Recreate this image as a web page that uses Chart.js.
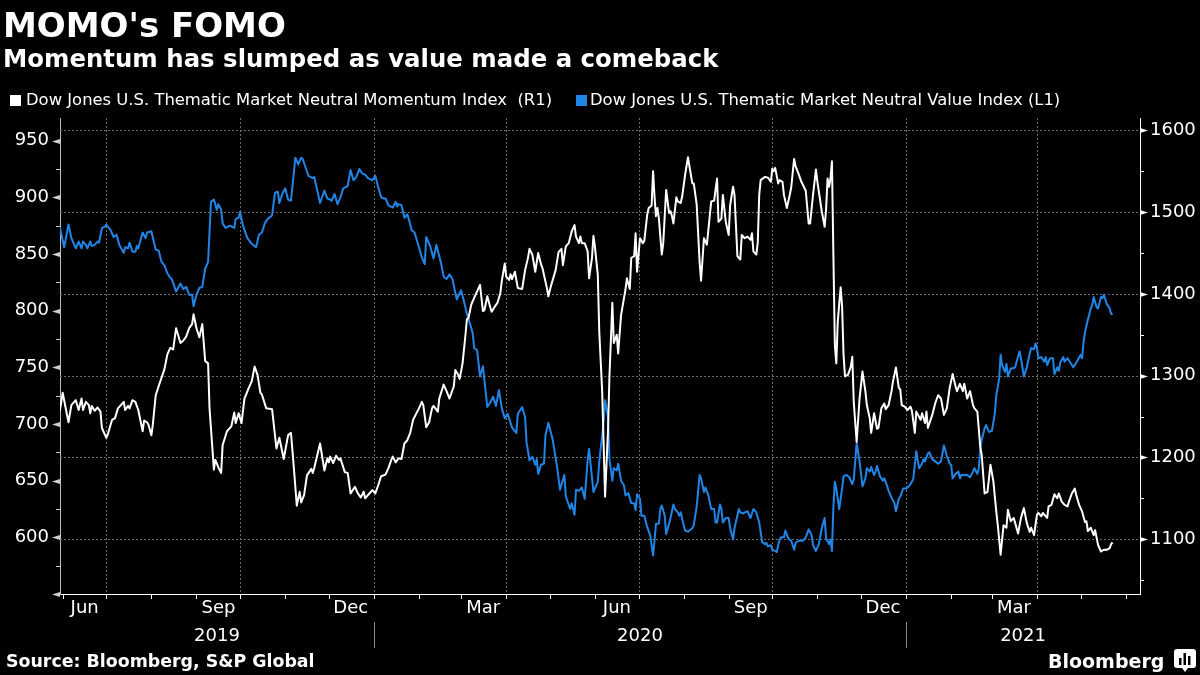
<!DOCTYPE html>
<html>
<head>
<meta charset="utf-8">
<script src="https://cdn.jsdelivr.net/npm/chart.js@4.4.1/dist/chart.umd.min.js"></script>
<style>
html,body{margin:0;padding:0;background:#000;width:1200px;height:675px;overflow:hidden;}
#wrap{position:relative;width:1200px;height:675px;background:#000;}
#c{position:absolute;left:0;top:0;}
.t{position:absolute;color:#fff;font-family:"DejaVu Sans",sans-serif;white-space:pre;line-height:1;}
.sq{position:absolute;width:11px;height:11px;}
</style>
</head>
<body>
<div id="wrap">
<canvas id="c" width="1200" height="675"></canvas>
<div class="t" style="left:3px;top:8px;font-size:34px;font-weight:bold;">MOMO's FOMO</div>
<div class="t" style="left:3px;top:47px;font-size:24.4px;font-weight:bold;">Momentum has slumped as value made a comeback</div>
<div class="sq" style="left:10px;top:95px;background:#ffffff;"></div>
<div class="t" style="left:26px;top:92px;font-size:16.4px;">Dow Jones U.S. Thematic Market Neutral Momentum Index  (R1)</div>
<div class="sq" style="left:576px;top:95px;background:#2185e6;"></div>
<div class="t" style="left:590px;top:92px;font-size:16.4px;">Dow Jones U.S. Thematic Market Neutral Value Index (L1)</div>
<div class="t" style="left:6px;top:653px;font-size:17.4px;font-weight:bold;">Source: Bloomberg, S&amp;P Global</div>
<div class="t" style="left:1048px;top:652px;font-size:19px;font-weight:bold;">Bloomberg</div>
<svg style="position:absolute;left:1174px;top:649px" width="22" height="24" viewBox="0 0 22 24">
<rect x="0" y="0" width="22" height="19" rx="3" fill="#fff"/>
<polygon points="8,19 14,19 11,23" fill="#fff"/>
<rect x="5" y="9" width="2.5" height="7" fill="#000"/>
<rect x="9.5" y="4" width="2.5" height="12" fill="#000"/>
<rect x="14" y="7" width="2.5" height="9" fill="#000"/>
</svg>
</div>
<script>
function md(ym, days){ return days.map(function(d){ return ym + '-' + String(d).padStart(2,'0'); }); }

// Dow Jones U.S. Thematic Market Neutral Momentum Index (right axis)
const momDates = [].concat(
  md('2019-05',[30]),
  md('2019-06',[1,5,7,10,12,14,15,17,19,20,21,23,25,27,28]),
  md('2019-07',[1,2,5,7,9,13,14,16,17,19,21,23,26,27,29,30]),
  md('2019-08',[1,2,4,6,10,12,14,16,18,21,23,25,27,29,30]),
  md('2019-09',[1,3,5,7,9,10,13,14,16,18,19,22,25,27,28,30]),
  md('2019-10',[2,4,7,9,11,13,15,16,19,23,26,28,31]),
  md('2019-11',[3,5,7,9,11,12,14,16,19,20,21,25,28,30]),
  md('2019-12',[1,2,4,6,8,9,12,14,16,19,21,23,25,26,28,31]),
  md('2020-01',[2,4,6,9,11,13,14,16,18,20,22,24,26,28]),
  md('2020-02',[1,3,4,6,8,10,11,14,15,18,20,22,25,26,28,29]),
  md('2020-03',[2,4,5,6,8,10,12,14,16,17,19,21,22,24,26,28,29,31]),
  md('2020-04',[1,3,4,5,7,9,12,14,16,17,19,21,23,25,26,29,30]),
  md('2020-05',[2,5,7,9,10,12,14,16,18,19,21,22,23,25,27,28,30,31]),
  md('2020-06',[1,3,4,6,8,10,11,13,14,16,17,19,22,23,25,26,28,29,30]),
  md('2020-07',[2,4,5,7,8,10,11,12,13,14,15,17,18,20,22,23,24,25,27,28,30,31]),
  md('2020-08',[2,4,5,7,8,10,12,13,15,17,20,22,24,25,27,28,30]),
  md('2020-09',[1,2,4,5,7,9,10,12,14,16,17,18,20,21,22,23,26,28,30]),
  md('2020-10',[1,2,3,5,6,8,9,11,13,14,16,17,19,21,24,26,27,29,31]),
  md('2020-11',[1,3,4,6,7,8,9,10,11,12,13,14,15,17,18,19,20,22,24,25,26,28,30]),
  md('2020-12',[2,4,5,7,8,10,12,13,15,17,18,20,22,23,25,27,28,29,31]),
  md('2021-01',[2,4,5,7,8,11,12,14,15,16,19,21,23,25,27,29,31]),
  md('2021-02',[2,4,5,7,9,10,12,14,16,17,19,21,22,24,26,28]),
  md('2021-03',[2,4,5,7,9,11,12,14,16,17,19,21,23,25,27,28,30]),
  md('2021-04',[1,2,4,5,8,9,11,13,15,16,18,20,22,23,25,27,28,30]),
  md('2021-05',[2,4,5,6,8,10,11,13,15,17,19,21,22,23])
);
const momValues = [
  1256,
  1279,1243,1264,1270,1258,1272,1258,1268,1264,1254,1263,1257,1261,1256,1236,
  1224,1228,1246,1248,1260,1268,1258,1263,1260,1270,1268,1258,1232,1245,1243,1240,
  1227,1240,1276,1287,1308,1326,1334,1332,1358,1340,1343,1348,1358,1363,1375,
  1358,1347,1363,1318,1315,1260,1185,1197,1188,1181,1215,1232,1238,1255,1242,1254,
  1242,1272,1285,1293,1311,1301,1279,1277,1260,1259,1211,1224,1198,
  1227,1230,1187,1141,1158,1145,1154,1178,1186,1181,1187,1217,1184,1199,
  1194,1201,1193,1202,1197,1199,1182,1181,1156,1164,1156,1151,1158,1150,1154,1160,
  1156,1166,1177,1179,1187,1197,1201,1194,1199,1198,1217,1221,1230,1246,
  1260,1268,1264,1237,1243,1260,1263,1256,1272,1289,1281,1272,1287,1307,1301,1296,
  1315,1350,1369,1370,1387,1395,1403,1411,1379,1380,1397,1384,1378,1384,1389,1401,1416,1437,
  1421,1417,1424,1418,1427,1407,1406,1429,1444,1455,1448,1427,1450,1436,1431,1407,1397,
  1411,1429,1451,1455,1435,1458,1462,1476,1484,1470,1462,1470,1462,1462,1452,1419,1444,1471,
  1458,1423,1354,1281,1152,1232,1299,1389,1340,1350,1327,1374,1405,1419,1406,1444,1446,1474,1427,
  1468,1462,1465,1497,1505,1508,1550,1519,1495,1505,1492,1448,1462,1527,1499,1501,1495,1486,1518,1513,1511,1519,
  1545,1567,1556,1535,1535,1509,1439,1416,1468,1460,1513,1514,1541,1488,1492,1521,1488,
  1472,1508,1531,1521,1446,1442,1472,1468,1470,1466,1474,1452,1448,1463,1521,1539,1543,1542,1537,
  1553,1550,1554,1535,1539,1537,1521,1505,1521,1530,1565,1556,1547,1537,1526,1486,1486,1521,1552,
  1537,1513,1501,1482,1504,1541,1531,1541,1562,1448,1338,1315,1366,1408,1384,1325,1299,1301,1311,1323,1268,1219,1272,
  1305,1281,1264,1248,1230,1254,1235,1236,1260,1266,1259,1264,1281,1293,1310,1285,1283,1264,1262,
  1258,1262,1257,1230,1256,1246,1254,1242,1256,1236,1252,1266,1276,1272,1252,1260,1285,
  1302,1287,1281,1290,1281,1290,1272,1281,1264,1260,1256,1213,1203,1156,1158,1191,
  1171,1134,1118,1081,1117,1114,1136,1122,1126,1120,1107,1126,1138,1120,1109,1114,1105,
  1130,1132,1128,1132,1126,1140,1142,1155,1150,1156,1146,1142,1140,1146,1156,1162,1154,1142,
  1134,1121,1122,1110,1114,1105,1111,1093,1085,1087,1087,1089,1094,1096
];

// Dow Jones U.S. Thematic Market Neutral Value Index (left axis)
const valDates = [].concat(
  md('2019-05',[30]),
  md('2019-06',[2,5,7,10,12,14,15,17,18,20,21,23,25,26,28,30]),
  md('2019-07',[1,4,6,8,10,13,14,16,17,19,21,22,23,26,28,29]),
  md('2019-08',[1,3,4,6,8,10,12,14,15,18,21,23,25,27,29,30]),
  md('2019-09',[1,3,5,7,9,11,13,15,16,18,19,21,24,27,28,30]),
  md('2019-10',[1,3,6,9,12,14,16,18,20,23,25,27,28,30]),
  md('2019-11',[1,3,5,7,8,10,12,13,17,20,21,25,28,30]),
  md('2019-12',[2,3,5,7,9,11,14,16,18,20,22,24,26,28,31]),
  md('2020-01',[2,4,6,8,9,11,14,16,17,18,20,22,24,25,27,29]),
  md('2020-02',[1,3,5,6,9,11,13,16,18,20,22,24,27]),
  md('2020-03',[1,3,5,7,9,10,12,14,16,19,21,23,25,27,29,31]),
  md('2020-04',[2,5,8,9,12,14,15,17,19,21,22,23,25,27,28,30]),
  md('2020-05',[3,6,8,11,12,15,16,18,19,21,23,25,27,28,31]),
  md('2020-06',[1,3,4,6,7,8,10,11,13,14,16,17,19,21,22,24,26,28,29,30]),
  md('2020-07',[2,3,5,7,9,11,12,13,15,16,17,19,20,22,23,25,26,28,29,30]),
  md('2020-08',[1,2,4,7,8,10,12,13,15,16,18,20,22,23,24,26,27,28,30]),
  md('2020-09',[1,2,4,5,8,9,11,12,14,16,17,18,20,22,24,26,27,28,30]),
  md('2020-10',[1,3,4,6,7,9,10,12,14,16,17,19,21,22,24,26,28,29,31]),
  md('2020-11',[2,4,6,7,9,10,11,12,13,14,16,18,19,21,23,25,26,28,30]),
  md('2020-12',[2,4,5,7,8,10,11,12,14,16,17,18,20,22,24,25,27,28,30]),
  md('2021-01',[1,3,5,6,8,9,10,12,13,14,16,17,19,21,23,25,27,29,31]),
  md('2021-02',[1,2,4,6,7,8,10,12,14,16,17,19,20,21,22,24,25,27]),
  md('2021-03',[1,3,4,6,7,8,10,11,12,14,15,17,18,20,21,23,25,27,28,30,31]),
  md('2021-04',[1,2,4,6,7,8,10,12,13,15,16,17,19,20,22,24,26,28]),
  md('2021-05',[1,2,3,4,6,8,9,10,12,13,15,16,17,19,21,22,23])
);
const valValues = [
  874,
  856,876,864,855,861,855,861,858,855,861,857,858,861,860,873,874,
  876,871,865,867,858,851,856,855,860,852,852,857,855,869,864,869,
  870,859,854,853,843,840,833,829,828,817,824,819,821,814,814,804,
  814,820,821,837,843,896,898,889,894,889,877,873,875,873,881,882,
  887,875,864,859,856,867,869,877,881,884,904,905,895,903,
  908,898,897,922,935,929,935,934,919,917,918,895,906,899,
  898,897,903,894,900,908,910,924,915,918,925,921,920,917,915,
  919,909,900,899,899,893,891,896,892,894,893,882,885,881,871,869,
  856,847,841,865,856,846,858,843,830,828,832,828,810,
  818,808,797,789,780,767,765,742,751,715,719,724,716,730,714,705,
  709,697,692,709,715,706,684,668,671,664,669,656,664,665,690,701,
  686,662,642,655,636,625,630,620,642,641,644,634,668,678,640,
  643,649,667,690,702,721,706,669,650,661,659,665,650,646,637,639,630,630,624,638,
  634,619,619,609,602,584,597,612,612,625,628,619,603,612,617,629,625,622,619,622,
  611,606,605,608,611,627,655,652,640,644,637,625,625,613,613,629,625,613,617,
  617,608,598,608,625,622,621,622,623,617,621,625,622,613,596,594,595,592,593,
  589,588,587,598,600,600,606,599,597,589,595,597,597,597,600,607,602,593,588,
  594,608,617,599,594,598,588,627,649,643,625,643,654,655,653,647,651,683,667,
  645,652,661,658,662,655,658,663,654,650,652,649,641,635,630,623,634,636,643,
  643,645,649,652,676,668,661,665,669,667,674,675,669,667,665,667,681,672,665,
  664,652,656,658,652,655,655,655,653,658,661,656,661,678,686,696,699,693,
  694,709,725,740,761,752,746,753,742,749,749,750,755,764,758,742,750,762,767,766,771,
  767,758,759,755,759,752,758,758,744,750,747,754,759,755,758,754,750,754,
  761,758,772,781,792,802,805,812,803,802,812,811,814,806,802,797,797
];

// Axis labels
const shownMonths = {5:'Jun', 8:'Sep', 11:'Dec', 2:'Mar'};
const yearLabels = ['2019','2020','2021'];
const leftTicks = [550,575,600,625,650,675,700,725,750,775,800,825,850,875,900,925,950];
const leftLabels = [600,650,700,750,800,850,900,950];
const rightTicks = [1050,1100,1150,1200,1250,1300,1350,1400,1450,1500,1550,1600];
const rightLabels = [1100,1200,1300,1400,1500,1600];

const DAY = 864e5;
const T0 = Date.UTC(2019,4,29);
const X_MIN = T0 + 1.17*DAY;
const X_MAX = T0 + 743.85*DAY;
const toTs = s => Date.parse(s + 'T00:00:00Z');

const monthStarts = [];
for (let y = 2019; y <= 2021; y++) for (let m = 0; m < 12; m++) {
  const t = Date.UTC(y, m, 1);
  if (t >= X_MIN && t <= X_MAX) monthStarts.push(t);
}
const quarterStarts = monthStarts.filter(t => new Date(t).getUTCMonth() % 3 === 0);

const momData = momDates.map((d,i) => ({x: toTs(d), y: momValues[i]})).filter(p => p.y !== undefined);
const valData = valDates.map((d,i) => ({x: toTs(d), y: valValues[i]})).filter(p => p.y !== undefined);

const FONT = {family: 'DejaVu Sans', size: 18};

const decor = {
  id: 'decor',
  beforeDatasetsDraw(chart) {
    const {ctx, chartArea: a, scales} = chart;
    ctx.save();
    ctx.strokeStyle = '#6a6a6a';
    ctx.lineWidth = 1;
    ctx.setLineDash([2, 2]);
    quarterStarts.forEach(t => {
      const px = Math.round(scales.x.getPixelForValue(t)) + 0.5;
      ctx.beginPath(); ctx.moveTo(px, a.top); ctx.lineTo(px, a.bottom); ctx.stroke();
    });
    rightLabels.forEach(v => {
      const py = Math.round(scales.yR.getPixelForValue(v)) + 0.5;
      ctx.beginPath(); ctx.moveTo(a.left, py); ctx.lineTo(a.right, py); ctx.stroke();
    });
    ctx.restore();
  },
  afterDraw(chart) {
    const {ctx, chartArea: a, scales} = chart;
    ctx.save();
    ctx.setLineDash([]);
    ctx.lineWidth = 1;
    // left axis ticks
    ctx.fillStyle = '#cfcfcf'; ctx.strokeStyle = '#cfcfcf';
    leftTicks.forEach(v => {
      const py = Math.round(scales.yL.getPixelForValue(v)) + 0.5;
      if (v % 50 === 0) {
        ctx.beginPath(); ctx.moveTo(a.left - 8, py); ctx.lineTo(a.left, py - 2.5); ctx.lineTo(a.left, py + 2.5); ctx.closePath(); ctx.fill();
      } else {
        ctx.beginPath(); ctx.moveTo(a.left - 4, py); ctx.lineTo(a.left, py); ctx.stroke();
      }
    });
    // right axis ticks
    ctx.fillStyle = '#ffffff'; ctx.strokeStyle = '#ffffff';
    rightTicks.forEach(v => {
      const py = Math.round(scales.yR.getPixelForValue(v)) + 0.5;
      if (v % 100 === 0) {
        ctx.beginPath(); ctx.moveTo(a.right + 8, py); ctx.lineTo(a.right, py - 2.5); ctx.lineTo(a.right, py + 2.5); ctx.closePath(); ctx.fill();
      } else {
        ctx.beginPath(); ctx.moveTo(a.right, py); ctx.lineTo(a.right + 4, py); ctx.stroke();
      }
    });
    // x month ticks
    monthStarts.forEach(t => {
      const px = Math.round(scales.x.getPixelForValue(t)) + 0.5;
      ctx.beginPath(); ctx.moveTo(px, a.bottom); ctx.lineTo(px, a.bottom + 5); ctx.stroke();
    });
    // years
    ctx.font = '18px "DejaVu Sans"';
    ctx.textAlign = 'center';
    ctx.textBaseline = 'alphabetic';
    ctx.fillStyle = '#ffffff';
    yearLabels.forEach(lbl => {
      const y = +lbl;
      const s = Math.max(X_MIN, Date.UTC(y,0,1)), e = Math.min(X_MAX, Date.UTC(y+1,0,1));
      const cx = (scales.x.getPixelForValue(s) + scales.x.getPixelForValue(e)) / 2;
      ctx.fillText(lbl, cx, 641);
      if (y > 2019) {
        const px = Math.round(scales.x.getPixelForValue(Date.UTC(y,0,1))) + 0.5;
        ctx.strokeStyle = '#888888';
        ctx.beginPath(); ctx.moveTo(px, 622); ctx.lineTo(px, 648); ctx.stroke();
      }
    });
    ctx.restore();
  }
};

new Chart(document.getElementById('c'), {
  type: 'line',
  data: {
    datasets: [
      {label: 'Dow Jones U.S. Thematic Market Neutral Momentum Index  (R1)', data: momData, yAxisID: 'yR',
       borderColor: '#ffffff', borderWidth: 2, pointRadius: 0, tension: 0, borderJoinStyle: 'round', fill: false},
      {label: 'Dow Jones U.S. Thematic Market Neutral Value Index (L1)', data: valData, yAxisID: 'yL',
       borderColor: '#2185e6', borderWidth: 2, pointRadius: 0, tension: 0, borderJoinStyle: 'round', fill: false}
    ]
  },
  options: {
    responsive: false,
    animation: false,
    devicePixelRatio: 1,
    layout: {padding: {top: 118, left: 0, right: 0, bottom: 0}},
    plugins: {legend: {display: false}, tooltip: {enabled: false}, title: {display: false}},
    scales: {
      x: {
        type: 'linear', min: X_MIN, max: X_MAX,
        afterBuildTicks(s) { s.ticks = monthStarts.map(v => ({value: v})); },
        afterFit(s) { s.height = 81; },
        grid: {display: false, drawTicks: false},
        border: {display: true, color: '#ffffff', width: 1},
        ticks: {
          autoSkip: false, maxRotation: 0, minRotation: 0, color: '#ffffff', font: FONT, padding: 4, labelOffset: 22,
          callback(v) {
            const m = new Date(v).getUTCMonth();
            if (v + 20*DAY > X_MAX) return '';
            return shownMonths[m] || '';
          }
        }
      },
      yL: {
        type: 'linear', position: 'left', min: 550, max: 970,
        afterBuildTicks(s) { s.ticks = leftTicks.map(v => ({value: v})); },
        afterFit(s) { s.width = 60; },
        grid: {display: false, drawTicks: false},
        border: {display: true, color: '#bdbdbd', width: 1},
        ticks: {color: '#ffffff', font: FONT, padding: 11,
          callback(v) { return leftLabels.includes(v) ? String(v) : ''; }}
      },
      yR: {
        type: 'linear', position: 'right', min: 1033, max: 1615,
        afterBuildTicks(s) { s.ticks = rightTicks.map(v => ({value: v})); },
        afterFit(s) { s.width = 60; },
        grid: {display: false, drawTicks: false},
        border: {display: true, color: '#ffffff', width: 1},
        ticks: {color: '#ffffff', font: FONT, padding: 10,
          callback(v) { return rightLabels.includes(v) ? String(v) : ''; }}
      }
    }
  },
  plugins: [decor]
});
</script>
</body>
</html>
